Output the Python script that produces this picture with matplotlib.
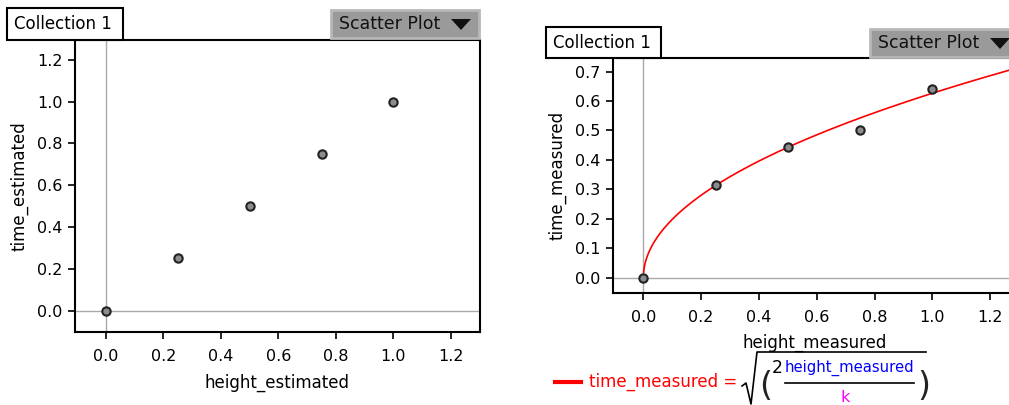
import numpy as np
import matplotlib.pyplot as plt
from matplotlib.patches import Rectangle, Polygon
from matplotlib.lines import Line2D

# data
height_estimated = [0.0, 0.25, 0.5, 0.75, 1.0]
time_estimated = [0.0, 0.25, 0.5, 0.75, 1.0]
height_measured = [0.0, 0.25, 0.5, 0.75, 1.0]
time_measured = [0.0, 0.315, 0.445, 0.50, 0.64]
k = 5.1  # fitted constant in time_measured = sqrt(2*height_measured/k)

left_xticks = [0.0, 0.2, 0.4, 0.6, 0.8, 1.0, 1.2]
left_yticks = [0.0, 0.2, 0.4, 0.6, 0.8, 1.0, 1.2]
right_xticks = [0.0, 0.2, 0.4, 0.6, 0.8, 1.0, 1.2]
right_yticks = [0.0, 0.1, 0.2, 0.3, 0.4, 0.5, 0.6, 0.7]

W, H = 1009, 405
fig = plt.figure(figsize=(W / 100, H / 100), dpi=100)
plt.rcParams['font.family'] = ['DejaVu Sans']


def fx(x):
    return x / W


def fy(y):
    return 1 - y / H


def ax_at(x0, y0, x1, y1):
    return fig.add_axes([fx(x0), fy(y1), fx(x1) - fx(x0), fy(y0) - fy(y1)])


def style(ax, xt, yt, xlabel, ylabel):
    ax.axhline(0, color='#aaaaaa', lw=1, zorder=1)
    ax.axvline(0, color='#aaaaaa', lw=1, zorder=1)
    ax.set_xticks(xt)
    ax.set_yticks(yt)
    ax.set_xticklabels([f'{v:.1f}' for v in xt])
    ax.set_yticklabels([f'{v:.1f}' for v in yt])
    ax.tick_params(direction='out', length=5, width=1.2, labelsize=11.5, pad=4)
    ax.tick_params(axis='x', pad=7)
    ax.set_xlabel(xlabel, fontsize=12, labelpad=7)
    ax.set_ylabel(ylabel, fontsize=12, labelpad=6)
    for s in ax.spines.values():
        s.set_linewidth(1.5)


def header(x0, y0, x1, y1, bx0, by0, bx1, by1):
    fig.add_artist(Rectangle((fx(x0), fy(y1)), fx(x1) - fx(x0), fy(y0) - fy(y1),
                             transform=fig.transFigure, facecolor='white',
                             edgecolor='black', lw=1.5))
    fig.text(fx(x0 + 7), fy((y0 + y1) / 2), 'Collection 1', fontsize=12,
             va='center', ha='left')
    fig.add_artist(Rectangle((fx(bx0), fy(by1)), fx(bx1) - fx(bx0), fy(by0) - fy(by1),
                             transform=fig.transFigure, facecolor='#9a9a9a',
                             edgecolor='#b8b8b8', lw=2))
    cy = (by0 + by1) / 2
    fig.text(fx(bx0 + 8), fy(cy), 'Scatter Plot', fontsize=12.5,
             va='center', ha='left', color='#111111')
    tx = bx0 + 120
    fig.add_artist(Polygon([(fx(tx), fy(cy - 5)), (fx(tx + 20), fy(cy - 5)),
                            (fx(tx + 10), fy(cy + 6))], closed=True,
                           transform=fig.transFigure, facecolor='#111111',
                           edgecolor='none'))


# left panel
ax1 = ax_at(75, 40, 480, 332)
ax1.scatter(height_estimated, time_estimated, s=36, facecolor='#8c8c8c',
            edgecolor='#222222', linewidth=1.5, zorder=3)
ax1.set_xlim(-0.107, 1.301)
ax1.set_ylim(-0.102, 1.295)
style(ax1, left_xticks, left_yticks, 'height_estimated', 'time_estimated')
header(7, 8, 123, 40, 331, 10, 479, 38)

# right panel
ax2 = ax_at(612.7, 58.3, 1017, 293.3)
h = np.linspace(0.0008, 1.4, 400)
ax2.plot(h, np.sqrt(2 * h / k), color='red', lw=1.2, zorder=2)
ax2.scatter(height_measured, time_measured, s=36, facecolor='#8c8c8c',
            edgecolor='#222222', linewidth=1.5, zorder=3)
ax2.set_xlim(-0.106, 1.293)
ax2.set_ylim(-0.053, 0.745)
style(ax2, right_xticks, right_yticks, 'height_measured', 'time_measured')
ax2.xaxis.labelpad = 6
header(546, 27, 661, 58, 870, 29, 1030, 57)

# formula legend
fig.add_artist(Line2D([fx(555), fx(581)], [fy(382), fy(382)], color='red', lw=3))
fig.text(fx(589), fy(382), 'time_measured =', color='red', fontsize=12,
         va='center', ha='left')
fig.add_artist(Line2D([fx(742), fx(746), fx(751), fx(757), fx(926)],
                      [fy(386), fy(383), fy(404), fy(352), fy(352)],
                      color='black', lw=1.2))
fig.text(fx(759), fy(386), '(', fontsize=24, va='center', ha='left', color='#222222')
fig.text(fx(917), fy(386), ')', fontsize=24, va='center', ha='left', color='#222222')
fig.text(fx(772), fy(368), '2', fontsize=12.5, va='center', ha='left')
fig.text(fx(785), fy(368), 'height_measured', fontsize=10.7, color='blue',
         va='center', ha='left')
fig.add_artist(Line2D([fx(785), fx(914)], [fy(383), fy(383)], color='black', lw=1.2))
fig.text(fx(840), fy(398), 'k', fontsize=11.5, color='magenta', va='center', ha='left')

fig.savefig('out.png', dpi=100)
